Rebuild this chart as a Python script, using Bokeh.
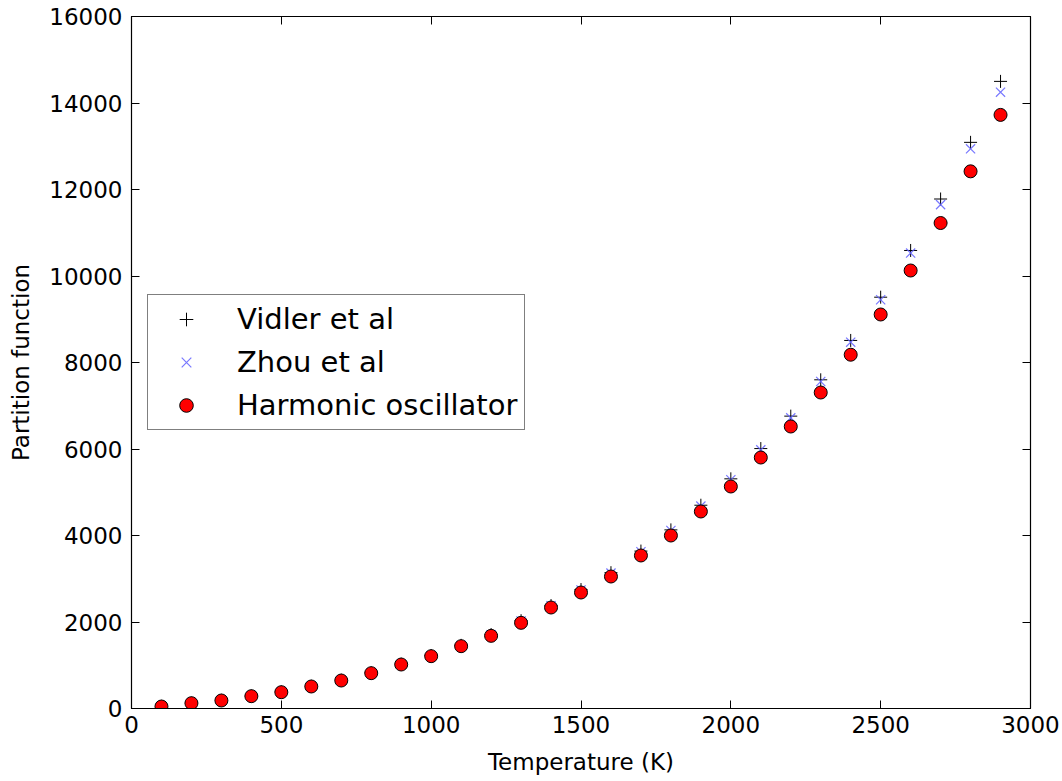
from bokeh.plotting import figure
from bokeh.models import Legend, LegendItem, LinearAxis, Range1d, FixedTicker
from bokeh.embed import file_html
from bokeh.resources import INLINE

temperature = [100, 200, 300, 400, 500, 600, 700, 800, 900, 1000, 1100, 1200, 1300, 1400,
               1500, 1600, 1700, 1800, 1900, 2000, 2100, 2200, 2300, 2400, 2500, 2600, 2700, 2800, 2900]
vidler = [50, 125, 190, 290, 385, 515, 655, 825, 1025, 1225, 1460, 1710, 2030, 2380,
          2750, 3140, 3640, 4130, 4700, 5310, 6010, 6760, 7600, 8510, 9510, 10590, 11780, 13090, 14500]
zhou = [50, 124, 189, 289, 384, 514, 654, 824, 1023, 1222, 1458, 1705, 2025, 2375,
        2740, 3130, 3625, 4115, 4680, 5290, 5980, 6720, 7560, 8470, 9450, 10530, 11650, 12940, 14250]
harmonic = [46, 123, 185, 285, 377, 509, 647, 817, 1017, 1210, 1441, 1680, 1981, 2335,
            2682, 3052, 3538, 4000, 4555, 5133, 5803, 6520, 7306, 8180, 9110, 10127, 11225, 12420, 13725]

x_ticks = [0, 500, 1000, 1500, 2000, 2500, 3000]
y_ticks = [0, 2000, 4000, 6000, 8000, 10000, 12000, 14000, 16000]

FONT = "DejaVu Sans"

p = figure(frame_width=899, frame_height=692, output_backend="svg", toolbar_location=None,
           x_range=Range1d(0, 3000), y_range=Range1d(0, 16000),
           min_border_left=131, min_border_right=32, min_border_top=16, min_border_bottom=73,
           x_axis_label="Temperature (K)", y_axis_label="Partition function")
p.grid.visible = False
p.outline_line_color = "black"
p.outline_line_width = 1.2
p.background_fill_color = "white"
p.border_fill_color = "white"

for ax in p.xaxis + p.yaxis:
    ax.major_tick_in = 8
    ax.major_tick_out = 0
    ax.minor_tick_in = 0
    ax.minor_tick_out = 0
    ax.axis_line_color = "black"
    ax.major_tick_line_color = "black"
    ax.major_label_text_font = FONT
    ax.major_label_text_font_size = "23px"
    ax.major_label_text_color = "black"
    ax.axis_label_text_font = FONT
    ax.axis_label_text_font_size = "23px"
    ax.axis_label_text_font_style = "normal"
    ax.axis_label_text_color = "black"

p.xaxis.ticker = FixedTicker(ticks=x_ticks)
p.yaxis.ticker = FixedTicker(ticks=y_ticks)
p.xaxis.major_label_standoff = 7
p.xaxis.axis_label_standoff = 13
p.yaxis.major_label_standoff = 9
p.yaxis.axis_label_standoff = 12

top = LinearAxis(ticker=FixedTicker(ticks=x_ticks), major_tick_in=8, major_tick_out=0,
                 minor_tick_in=0, minor_tick_out=0, major_label_text_color=None,
                 major_label_text_font_size="0px", axis_line_color="black")
right = LinearAxis(ticker=FixedTicker(ticks=y_ticks), major_tick_in=8, major_tick_out=0,
                   minor_tick_in=0, minor_tick_out=0, major_label_text_color=None,
                   major_label_text_font_size="0px", axis_line_color="black")
p.add_layout(top, "above")
p.add_layout(right, "right")

r_v = p.scatter(temperature, vidler, marker="cross", size=13, line_color="black", line_width=1)
r_z = p.scatter(temperature, zhou, marker="x", size=13, line_color="#6060ff", line_alpha=0.85, line_width=1.2)
r_h = p.scatter(temperature, harmonic, marker="circle", size=13, fill_color="#ff0000",
                line_color="black", line_width=1)

legend = Legend(items=[LegendItem(label="Vidler et al", renderers=[r_v]),
                       LegendItem(label="Zhou et al", renderers=[r_z]),
                       LegendItem(label="Harmonic oscillator", renderers=[r_h])],
                location=(16, 278))
legend.label_text_font = FONT
legend.label_text_font_size = "29px"
legend.label_text_color = "black"
legend.border_line_color = "black"
legend.border_line_width = 1.2
legend.background_fill_alpha = 1.0
legend.glyph_width = 62
legend.glyph_height = 34
legend.label_height = 34
legend.spacing = 9
legend.padding = 7
legend.margin = 0
legend.label_standoff = 20
p.add_layout(legend, "center")

open("out.html", "w").write(file_html(p, INLINE))
